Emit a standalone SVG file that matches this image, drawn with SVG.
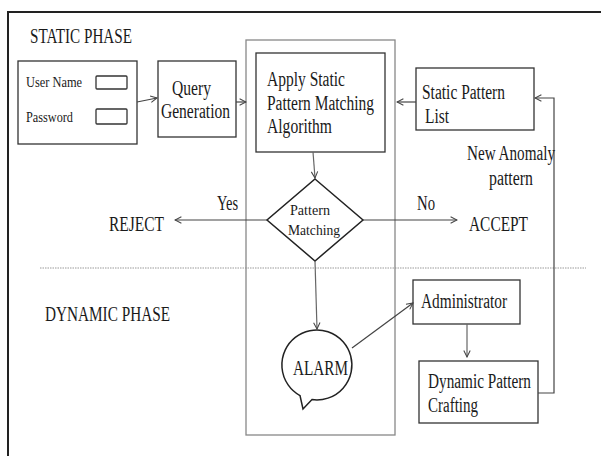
<svg xmlns="http://www.w3.org/2000/svg" width="601" height="456" viewBox="0 0 601 456">
<defs>
<style>
text{font-family:"Liberation Serif","Times New Roman",serif;fill:#1a1a1a;}
.t{font-size:20px;}
.s{font-size:15.5px;}
.box{fill:#fff;stroke:#333;stroke-width:1.3;}
.frame{fill:none;stroke:#888;stroke-width:1.3;}
.ln{fill:none;stroke:#444;stroke-width:1.2;}
.ln2{fill:none;stroke:#666;stroke-width:1.2;}
</style>
<marker id="ah" viewBox="0 0 10 10" refX="9" refY="5" markerWidth="8" markerHeight="8" markerUnits="userSpaceOnUse" orient="auto">
<path d="M1,1 L9,5 L1,9" fill="none" stroke="#444" stroke-width="1.3"/>
</marker>
</defs>
<rect width="601" height="456" fill="#fff"/>
<path d="M8,460 L8,12 L605,12" fill="none" stroke="#222" stroke-width="2"/>
<text class="t" x="30" y="43" textLength="102" lengthAdjust="spacingAndGlyphs">STATIC PHASE</text>
<text class="t" x="45" y="321" textLength="125" lengthAdjust="spacingAndGlyphs">DYNAMIC PHASE</text>
<line x1="40" y1="268" x2="586" y2="268" stroke="#999" stroke-width="1" stroke-dasharray="1.5,1"/>
<rect id="centerframe" class="frame" x="246" y="40" width="149" height="395"/>
<g id="login">
<rect class="box" x="18" y="61" width="119" height="83"/>
<text class="s" x="26" y="87" textLength="56" lengthAdjust="spacingAndGlyphs">User Name</text>
<rect class="box" x="96" y="76" width="31" height="13" rx="1"/>
<text class="s" x="26" y="122" textLength="47" lengthAdjust="spacingAndGlyphs">Password</text>
<rect class="box" x="96" y="109" width="31" height="15" rx="1"/>
</g>
<g id="query">
<rect class="box" x="158" y="61" width="78" height="76"/>
<text class="t" x="172" y="95" textLength="39" lengthAdjust="spacingAndGlyphs">Query</text>
<text class="t" x="161" y="118" textLength="69" lengthAdjust="spacingAndGlyphs">Generation</text>
</g>
<g id="apply">
<rect class="box" x="256" y="53" width="129" height="99"/>
<text class="t" x="267" y="86" textLength="78" lengthAdjust="spacingAndGlyphs">Apply Static</text>
<text class="t" x="267" y="110" textLength="107" lengthAdjust="spacingAndGlyphs">Pattern Matching</text>
<text class="t" x="267" y="133" textLength="65" lengthAdjust="spacingAndGlyphs">Algorithm</text>
</g>
<g id="staticlist">
<rect class="box" x="416" y="68" width="118" height="62"/>
<text class="t" x="422" y="99" textLength="83" lengthAdjust="spacingAndGlyphs">Static Pattern</text>
<text class="t" x="425" y="123" textLength="24" lengthAdjust="spacingAndGlyphs">List</text>
</g>
<g id="decision">
<polygon points="315,179 363,220 315,261 267,220" fill="#fff" stroke="#222" stroke-width="1.5"/>
<text class="s" x="290" y="215" textLength="40" lengthAdjust="spacingAndGlyphs">Pattern</text>
<text class="s" x="288" y="235" textLength="52" lengthAdjust="spacingAndGlyphs">Matching</text>
</g>
<g id="reject"><text class="t" x="109" y="231" textLength="55" lengthAdjust="spacingAndGlyphs">REJECT</text></g>
<g id="accept"><text class="t" x="469" y="231" textLength="59" lengthAdjust="spacingAndGlyphs">ACCEPT</text></g>
<g id="alarm">
<path d="M312,399.6 A35,35 0 1,0 300,395.6 L303,409 Z" fill="#fff" stroke="#222" stroke-width="1.5"/>
<text class="t" x="293" y="375" textLength="55" lengthAdjust="spacingAndGlyphs">ALARM</text>
</g>
<g id="admin">
<rect class="box" x="413" y="280" width="107" height="44"/>
<text class="t" x="421" y="308" textLength="86" lengthAdjust="spacingAndGlyphs">Administrator</text>
</g>
<g id="dynamic">
<rect class="box" x="419" y="361" width="119" height="62"/>
<text class="t" x="428" y="388" textLength="103" lengthAdjust="spacingAndGlyphs">Dynamic Pattern</text>
<text class="t" x="428" y="412" textLength="50" lengthAdjust="spacingAndGlyphs">Crafting</text>
</g>
<g id="connectors">
<line class="ln" x1="137" y1="102" x2="157" y2="98" marker-end="url(#ah)"/>
<line class="ln" x1="236" y1="102" x2="246" y2="102" marker-end="url(#ah)"/>
<line class="ln" x1="416" y1="102" x2="397" y2="102" marker-end="url(#ah)"/>
<polyline class="ln" points="538,393 554,393 554,98 535,98" marker-end="url(#ah)"/>
<line class="ln2" x1="313" y1="152" x2="315" y2="178" marker-end="url(#ah)"/>
<line class="ln" x1="267" y1="220" x2="175" y2="220" marker-end="url(#ah)"/>
<line class="ln" x1="363" y1="220" x2="457" y2="220" marker-end="url(#ah)"/>
<line class="ln2" x1="315" y1="261" x2="317" y2="329" marker-end="url(#ah)"/>
<line class="ln" x1="352" y1="348" x2="413" y2="303" marker-end="url(#ah)"/>
<line class="ln2" x1="467" y1="324" x2="467" y2="357" marker-end="url(#ah)"/>
<text class="t" x="217" y="210" textLength="21" lengthAdjust="spacingAndGlyphs">Yes</text>
<text class="t" x="417" y="210" textLength="18" lengthAdjust="spacingAndGlyphs">No</text>
<text class="t" x="467" y="160" textLength="88" lengthAdjust="spacingAndGlyphs">New Anomaly</text>
<text class="t" x="489" y="185" textLength="44" lengthAdjust="spacingAndGlyphs">pattern</text>
</g>
</svg>
